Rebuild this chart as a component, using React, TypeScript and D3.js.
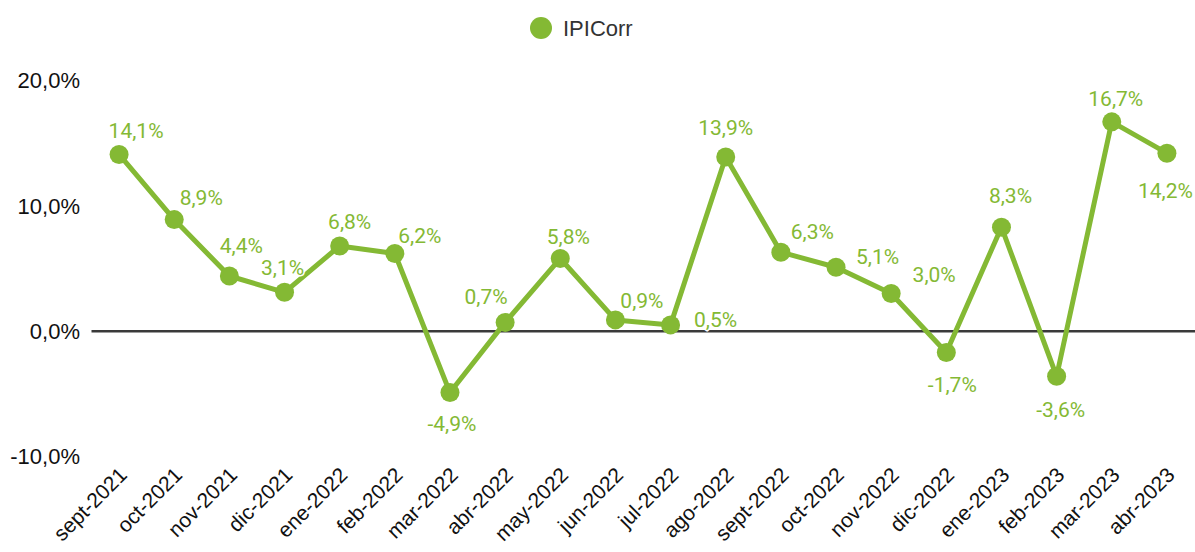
import { useRef, useEffect } from "react";
import * as d3 from "d3";

const months = [
  "sept-2021", "oct-2021", "nov-2021", "dic-2021", "ene-2022", "feb-2022",
  "mar-2022", "abr-2022", "may-2022", "jun-2022", "jul-2022", "ago-2022",
  "sept-2022", "oct-2022", "nov-2022", "dic-2022", "ene-2023", "feb-2023",
  "mar-2023", "abr-2023",
];
const ipiCorr = [
  14.1, 8.9, 4.4, 3.1, 6.8, 6.2, -4.9, 0.7, 5.8, 0.9, 0.5, 13.9,
  6.3, 5.1, 3.0, -1.7, 8.3, -3.6, 16.7, 14.2,
];
const yTicks = [-10, 0, 10, 20];
const seriesName = "IPICorr";

// label nudges (px from the point), mimics the original's collision placement
const labelNudge: [number, number][] = [
  [17, -24], [27, -22], [12, -30], [-2, -25], [10, -24.5], [25, -18],
  [2, 31], [-19, -26], [8, -22], [26.5, -19.5], [45, -5], [0, -29],
  [31.5, -21], [41.5, -11], [43, -19.5], [6, 32.5], [9, -32], [4, 33.5],
  [4, -23.5], [-1.5, 37],
];

const W = 1195;
const H = 552;
const GREEN = "#84b934";
const fmt = (v: number) => v.toFixed(1).replace(".", ",") + "%";

export default function App() {
  const svgRef = useRef<SVGSVGElement | null>(null);

  useEffect(() => {
    const svg = d3.select(svgRef.current).attr("width", W).attr("height", H);
    svg.selectAll("*").remove();

    const x = d3.scaleBand<string>().domain(months).range([91.5, 1194.5]);
    const cx = (m: string) => (x(m) as number) + x.bandwidth() / 2;
    const y = d3.scaleLinear().domain([-10, 20]).range([456.5, 80.5]);

    // legend
    const lg = svg.append("g");
    lg.append("circle").attr("cx", 541).attr("cy", 28).attr("r", 11).attr("fill", GREEN);
    lg.append("text")
      .attr("x", 563).attr("y", 28).attr("dy", "0.35em")
      .attr("font-family", "'Liberation Sans', Arial, sans-serif")
      .attr("font-size", 22).attr("fill", "#333")
      .text(seriesName);

    // y axis labels
    svg.append("g")
      .selectAll("text")
      .data(yTicks)
      .enter()
      .append("text")
      .attr("x", 80).attr("y", (d) => y(d)).attr("dy", "0.36em")
      .attr("text-anchor", "end")
      .attr("font-family", "'Liberation Sans', Arial, sans-serif")
      .attr("font-size", 22).attr("fill", "#111")
      .text((d) => fmt(d));

    // zero line
    svg.append("line")
      .attr("x1", 91.5).attr("x2", W)
      .attr("y1", y(0)).attr("y2", y(0))
      .attr("stroke", "#3a3a3a").attr("stroke-width", 2.5);

    // x axis labels
    svg.append("g")
      .selectAll("text")
      .data(months)
      .enter()
      .append("text")
      .attr("transform", (d) => `translate(${cx(d) + 4},471) rotate(-45)`)
      .attr("dy", "0.35em")
      .attr("text-anchor", "end")
      .attr("font-family", "'Liberation Sans', Arial, sans-serif")
      .attr("font-size", 21).attr("fill", "#111")
      .text((d) => d);

    const pts = months.map((m, i) => ({ m, v: ipiCorr[i], i }));

    const line = d3.line<{ m: string; v: number }>()
      .x((d) => cx(d.m))
      .y((d) => y(d.v));

    svg.append("path")
      .datum(pts)
      .attr("d", line)
      .attr("fill", "none")
      .attr("stroke", GREEN).attr("stroke-width", 5)
      .attr("stroke-linejoin", "round");

    svg.append("g")
      .selectAll("circle")
      .data(pts)
      .enter()
      .append("circle")
      .attr("cx", (d) => cx(d.m)).attr("cy", (d) => y(d.v))
      .attr("r", 9.5).attr("fill", GREEN);

    // data labels with white halo
    svg.append("g")
      .selectAll("text")
      .data(pts)
      .enter()
      .append("text")
      .attr("x", (d) => cx(d.m) + labelNudge[d.i][0])
      .attr("y", (d) => y(d.v) + labelNudge[d.i][1])
      .attr("dy", "0.355em")
      .attr("text-anchor", "middle")
      .attr("font-family", "Roboto, sans-serif")
      .attr("font-size", 21)
      .attr("fill", GREEN)
      .attr("stroke", "#fff").attr("stroke-width", 3)
      .attr("stroke-linejoin", "round")
      .attr("paint-order", "stroke")
      .text((d) => fmt(d.v));
  }, []);

  return (
    <div style={{ position: "absolute", left: 0, top: 0, width: W, height: H, background: "#fff" }}>
      <svg ref={svgRef} style={{ display: "block" }} />
    </div>
  );
}
